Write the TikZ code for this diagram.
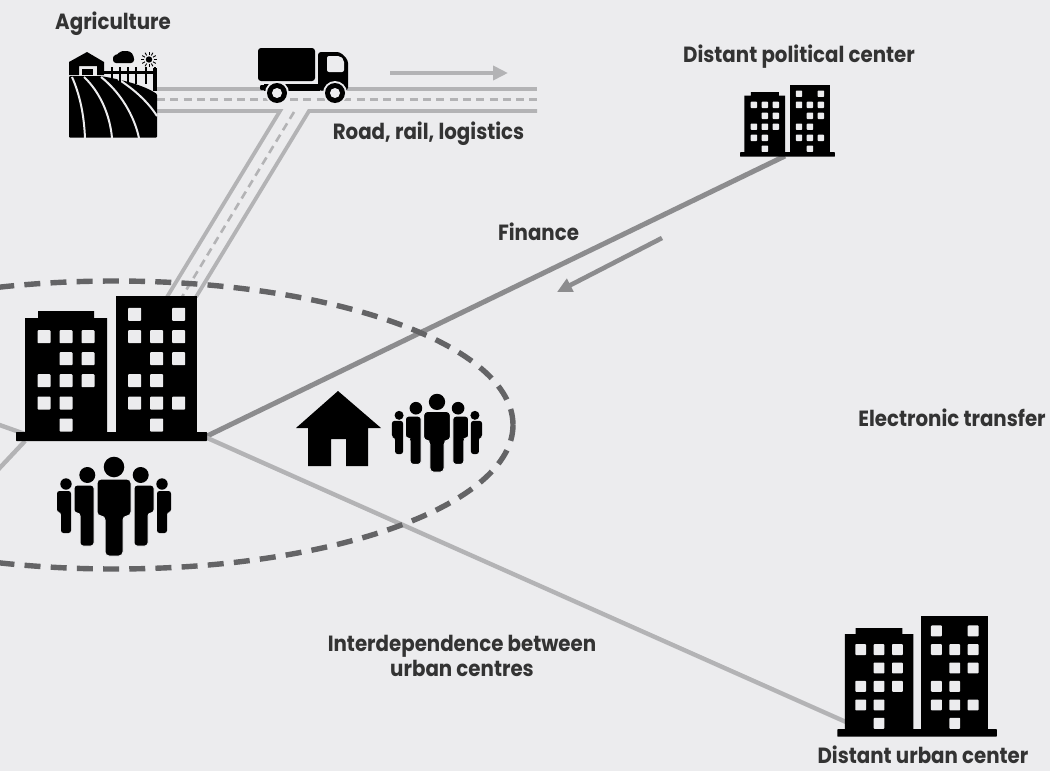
\documentclass[tikz,border=0pt]{standalone}
\usepackage{fontspec}
\setmainfont{Poppins}[FakeStretch=0.9]
\usetikzlibrary{arrows.meta}
\definecolor{bgc}{HTML}{ECECEE}
\definecolor{lightg}{HTML}{B3B3B5}
\definecolor{midg}{HTML}{8C8C8E}
\definecolor{dashg}{HTML}{646466}
\definecolor{txt}{HTML}{333333}
\tikzset{
  label text/.style={font=\fontsize{22}{25}\selectfont\bfseries,text=txt,align=center,inner sep=0pt},
  road/.style={draw=lightg,line width=3.8pt},
  roadmid/.style={draw=lightg,line width=2.6pt,dash pattern=on 8pt off 5.3pt},
  light link/.style={draw=lightg,line width=4.4pt},
  dark link/.style={draw=midg,line width=5pt},
  flow/.style={line width=4.6pt,-{Triangle[length=15pt,width=14pt]}},
  window/.style={fill=bgc,rounded corners=0.8pt},
  building/.pic={
    \fill[black,rounded corners=0.6pt] (0,0) rectangle (191,-9);
    \fill[black] (9,-5) -- (9,-123) -- (22,-123) -- (22,-130) -- (78,-130) -- (78,-123) -- (91,-123) -- (91,-5) -- cycle;
    \fill[black] (100,-5) rectangle (181,-145);
    \foreach \wx/\wy in {28/-104.3,50/-104.3,72/-104.3,50/-82.3,72/-82.3,28/-60.3,50/-60.3,72/-60.3,28/-38,50/-38,50/-16,
      118.7/-126.7,162.7/-126.7,118.7/-104.3,140.7/-104.3,162.7/-104.3,140.7/-82.3,162.7/-82.3,118.7/-60.3,140.7/-60.3,118.7/-38,140.7/-38,162.7/-38,140.7/-16}
      {\fill[window] (\wx-6.5,\wy-6.5) rectangle (\wx+6.5,\wy+6.5);}
  },
  crowd/.pic={
    \foreach \s in {-1,1}{
      \fill[black] (\s*48,27) circle (5.7);
      \fill[black,rounded corners=2.5pt] (\s*57,34) -- (\s*57,55) -- (\s*53,55) -- (\s*53,76) -- (\s*43,76) -- (\s*43,34) -- cycle;
      \fill[black] (\s*26.7,18) circle (8);
      \filldraw[black,draw=bgc,line width=1pt,rounded corners=3pt] (\s*40,28) -- (\s*40,56) -- (\s*34,56) -- (\s*34,89) -- (\s*20,89) -- (\s*20,28) -- cycle;
    }
    \fill[black] (0,10) circle (10.3);
    \filldraw[black,draw=bgc,line width=1pt,rounded corners=4pt] (-17,22) -- (17,22) -- (17,59) -- (9,59) -- (9,99) -- (-9,99) -- (-9,59) -- (-17,59) -- cycle;
  },
}
\begin{document}
\begin{tikzpicture}[x=1pt,y=-1pt]
\useasboundingbox (0,0) rectangle (1050,771);
\clip (0,0) rectangle (1050,771);
\fill[bgc] (0,0) rectangle (1050,771);

% anchor points
\coordinate (cityE) at (205,437);
\coordinate (cityWu) at (25,434);
\coordinate (cityWl) at (25,441);
\coordinate (offL) at (-6,423);
\coordinate (offM) at (-6,474);
\coordinate (polS) at (785,156);
\coordinate (urbW) at (846,722);
\coordinate (farmU) at (157,89);
\coordinate (farmM) at (157,99.5);
\coordinate (farmL) at (157,111);
\coordinate (roadEU) at (537,89);
\coordinate (roadEM) at (537,99.5);
\coordinate (roadEL) at (537,111);
\coordinate (joinL) at (280,111);
\coordinate (joinR) at (309,111);
\coordinate (joinM) at (294,112);
\coordinate (cityNL) at (167,297);
\coordinate (cityNM) at (182,297);
\coordinate (cityNR) at (196,297);

% roads
\draw[road] (farmU) -- (roadEU);
\draw[roadmid] (farmM) -- (roadEM);
\draw[road] (farmL) -- (joinL) -- (cityNL);
\draw[road] (roadEL) -- (joinR) -- (cityNR);
\draw[roadmid] (joinM) -- (cityNM);

% links
\draw[dark link] (cityE) -- (polS);
\draw[light link] (cityE) -- (urbW);
\draw[light link] (offL) -- (cityWu);
\draw[light link] (offM) -- (cityWl);

% dashed boundary
\draw[dashg,line width=5.4pt,dash pattern=on 16pt off 10.2pt] (115,425) ellipse [x radius=398,y radius=144];

% flow arrows
\coordinate (rdA) at (390,73); \coordinate (rdB) at (508,73);
\coordinate (fnA) at (662,238); \coordinate (fnB) at (557,292);
\draw[flow,lightg] (rdA) -- (rdB);
\draw[flow,midg] (fnA) -- (fnB);

% buildings
\pic at (16,441) {building};
\pic[scale=0.497] at (740,156.7) {building};
\pic[scale=0.835] at (837.3,736.7) {building};

% crowds
\pic at (114,457) {crowd};
\pic[scale=0.79] at (437,394) {crowd};

% house
\fill[black] (338,391) -- (381,428) -- (368,428) -- (368,466) -- (346,466) -- (346,439) -- (331,439) -- (331,466) -- (308,466) -- (308,428) -- (296,428) -- cycle;

% truck
\fill[black,rounded corners=3pt] (258,48) rectangle (315,81);
\fill[black,rounded corners=3pt] (318,52) -- (340,52) -- (348,60) -- (348,90.5) -- (318,90.5) -- cycle;
\fill[black] (264,84) rectangle (320,90.5);
\fill[black,rounded corners=1pt] (260,85) rectangle (268,90);
\fill[bgc,rounded corners=2pt] (327,56) -- (340,56) -- (344,60) -- (344,72) -- (327,72) -- cycle;
\foreach \wx in {277,335}{
  \fill[bgc] (\wx,93) circle (12);
  \fill[black] (\wx,93) circle (10);
  \fill[bgc] (\wx,93) circle (5);
}

% farm
\fill[black,rounded corners=1pt] (69,76) -- (100,76) .. controls (125,80) and (145,86) .. (157,94) -- (157,137.5) -- (69,137.5) -- cycle;
\draw[bgc,line width=2pt] (72,77) .. controls (80,95) and (84,115) .. (85,138);
\draw[bgc,line width=2pt] (84,77) .. controls (100,92) and (110,115) .. (112,138);
\draw[bgc,line width=2pt] (101,77) .. controls (120,92) and (134,115) .. (139,138);
\draw[bgc,line width=2pt] (118,79) .. controls (135,90) and (148,102) .. (157,116);
\fill[black] (69,75) -- (69,62) -- (87,52) -- (104,62) -- (104,75) -- (97,75) -- (97,66) -- (79,66) -- (79,75) -- cycle;
\fill[black] (82,69) rectangle (93,75);
\fill[black] (104,71) rectangle (157,74);
\foreach \fx in {112,120,128,136,146,155}{\fill[black] (\fx-1.2,67) rectangle (\fx+1.2,84);}
\fill[black] (153,68) rectangle (157,91);
\fill[black,rounded corners=3pt] (113,55) -- (118,55) -- (120,51) -- (130,51) -- (134,56) -- (134,63) -- (113,63) -- cycle;
\fill[black] (149,59.5) circle (3.2);
\foreach \ra in {0,30,...,330}{\draw[black,line width=0.9pt] (149,59.5) ++(\ra:4.6) -- ++(\ra:3.2);}

% labels
\node[label text] (agri) at (113,24) {Agriculture};
\node[label text] (road) at (428.5,134) {Road, rail, logistics};
\node[label text] (pol) at (799,57) {Distant political center};
\node[label text] (fin) at (538.5,232) {Finance};
\node[label text] (elec) at (952,418) {Electronic transfer};
\node[label text] (inter) at (462,656) {Interdependence between\\urban centres};
\node[label text] (urb) at (923,755) {Distant urban center};
\end{tikzpicture}
\end{document}
